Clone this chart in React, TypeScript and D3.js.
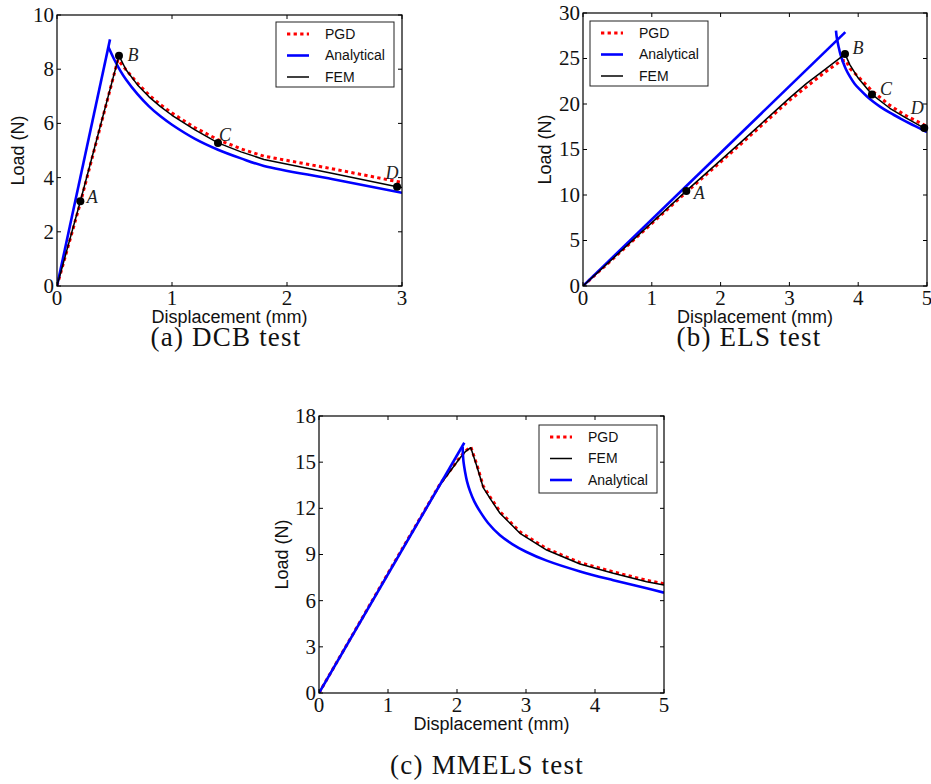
import * as d3 from "d3";

type Pt = [number, number];

// (a) DCB test
const dcbPgd: Pt[] = [[0, 0], [0.2, 3.02], [0.53, 8.35], [0.6, 7.98], [0.7, 7.48], [0.8, 7.05], [0.9, 6.69], [1.0, 6.38], [1.2, 5.84], [1.4, 5.4], [1.6, 5.06], [1.8, 4.79], [2.4, 4.32], [3.0, 3.82]];
const dcbAnalyticalLoad: Pt[] = [[0, 0], [0.461, 9.1]];
const dcbAnalyticalCrack: Pt[] = [[0.446, 8.83], [0.5, 8.34], [0.55, 7.95], [0.6, 7.62], [0.7, 7.08], [0.8, 6.63], [0.9, 6.26], [1.0, 5.95], [1.2, 5.43], [1.4, 5.03], [1.6, 4.71], [1.8, 4.43], [2.4, 3.94], [3.0, 3.44]];
const dcbFem: Pt[] = [[0, 0], [0.203, 3.13], [0.539, 8.5], [0.6, 7.98], [0.7, 7.42], [0.8, 6.98], [0.9, 6.62], [1.0, 6.3], [1.2, 5.76], [1.4, 5.28], [1.6, 4.95], [1.8, 4.67], [2.4, 4.15], [2.957, 3.66], [3.0, 3.63]];
const dcbMarks: Pt[] = [[0.203, 3.13], [0.539, 8.5], [1.4, 5.28], [2.957, 3.66]];
const dcbXTicks = [0, 1, 2, 3];
const dcbYTicks = [0, 2, 4, 6, 8, 10];

// (b) ELS test
const elsPgd: Pt[] = [[0, 0], [1.5, 10.3], [2.28, 15.5], [3.0, 20.4], [3.5, 23.4], [3.75, 24.75], [3.82, 24.8], [3.88, 23.9], [4.0, 23.0], [4.2, 21.45], [4.46, 19.85], [4.7, 18.7], [5.0, 17.55]];
const elsAnalyticalLoad: Pt[] = [[0, 0], [3.813, 27.9]];
const elsAnalyticalCrack: Pt[] = [[3.677, 28.05], [3.685, 27.5], [3.696, 27.0], [3.715, 26.3], [3.74, 25.5], [3.775, 24.7], [3.82, 23.85], [3.88, 23.0], [3.95, 22.2], [4.03, 21.55], [4.124, 20.85], [4.22, 20.25], [4.317, 19.72], [4.46, 19.05], [4.608, 18.43], [4.78, 17.75], [4.946, 17.12], [5.0, 16.92]];
const elsFem: Pt[] = [[0, 0], [1.502, 10.45], [2.28, 15.7], [3.0, 20.65], [3.25, 22.27], [3.5, 23.7], [3.808, 25.49], [3.88, 24.3], [4.0, 22.85], [4.2, 21.05], [4.46, 19.53], [4.7, 18.45], [4.96, 17.35], [5.0, 17.25]];
const elsMarks: Pt[] = [[1.502, 10.45], [3.808, 25.49], [4.2, 21.05], [4.96, 17.35]];
const elsXTicks = [0, 1, 2, 3, 4, 5];
const elsYTicks = [0, 5, 10, 15, 20, 25, 30];

// (c) MMELS test
const mmelsPgd: Pt[] = [[0, 0], [1.0, 7.78], [1.75, 13.55], [2.04, 15.3], [2.12, 15.72], [2.2, 16.0], [2.29, 14.8], [2.38, 13.45], [2.5, 12.6], [2.623, 11.78], [2.913, 10.47], [3.3, 9.38], [3.783, 8.47], [4.265, 7.87], [4.749, 7.32], [5.0, 7.1]];
const mmelsFem: Pt[] = [[0, 0], [1.0, 7.74], [1.75, 13.5], [2.04, 15.25], [2.12, 15.68], [2.2, 15.94], [2.29, 14.7], [2.38, 13.35], [2.5, 12.5], [2.623, 11.68], [2.913, 10.38], [3.3, 9.29], [3.783, 8.38], [4.265, 7.78], [4.749, 7.23], [5.0, 7.02]];
const mmelsAnalyticalLoad: Pt[] = [[0, 0], [2.106, 16.26]];
const mmelsAnalyticalCrack: Pt[] = [[2.082, 16.0], [2.086, 15.5], [2.095, 15.0], [2.116, 14.4], [2.145, 13.75], [2.19, 13.1], [2.25, 12.45], [2.333, 11.8], [2.45, 11.05], [2.623, 10.25], [2.8, 9.68], [3.0, 9.18], [3.3, 8.6], [3.783, 7.9], [4.265, 7.33], [4.749, 6.8], [5.0, 6.52]];
const mmelsXTicks = [0, 1, 2, 3, 4, 5];
const mmelsYTicks = [0, 3, 6, 9, 12, 15, 18];

const markNames = ["A", "B", "C", "D"];

type Kind = "PGD" | "Analytical" | "FEM";
const look: Record<Kind, { color: string; width: number; dash?: string }> = {
  PGD: { color: "#ff0000", width: 3, dash: "3.3 3.3" },
  Analytical: { color: "#0000ff", width: 2.6 },
  FEM: { color: "#000000", width: 1.5 },
};

const serif = "'Liberation Serif', 'Times New Roman', serif";
const sans = "'Liberation Sans', Arial, sans-serif";

type PanelProps = {
  id: string;
  box: { l: number; t: number; r: number; b: number };
  xMax: number;
  yMax: number;
  xTicks: number[];
  yTicks: number[];
  series: { kind: Kind; parts: Pt[][]; smooth?: boolean }[];
  legendOrder: Kind[];
  legend: { x: number; y: number; h: number };
  marks?: Pt[];
  markOffsets?: Pt[];
  caption: string;
  captionX: number;
  captionY: number;
  yTitleX: number;
};

function Panel(p: PanelProps) {
  const { l, t, r, b } = p.box;
  const x = d3.scaleLinear().domain([0, p.xMax]).range([l, r]);
  const y = d3.scaleLinear().domain([0, p.yMax]).range([b, t]);
  const straight = d3
    .line<Pt>()
    .x((d) => x(d[0]))
    .y((d) => y(d[1]));
  const smooth = d3
    .line<Pt>()
    .x((d) => x(d[0]))
    .y((d) => y(d[1]))
    .curve(d3.curveCatmullRom.alpha(0.5));
  const tick = 4;

  return (
    <g>
      <defs>
        <clipPath id={`clip-${p.id}`}>
          <rect x={l} y={t} width={r - l} height={b - t} />
        </clipPath>
      </defs>

      {/* curves */}
      <g clipPath={`url(#clip-${p.id})`} fill="none">
        {p.series.map((s) =>
          s.parts.map((part, i) => (
            <path
              key={s.kind + i}
              d={(s.smooth && part.length > 2 ? smooth(part) : straight(part)) || ""}
              stroke={look[s.kind].color}
              strokeWidth={look[s.kind].width}
              strokeDasharray={look[s.kind].dash}
              strokeLinejoin="round"
            />
          ))
        )}
      </g>

      {/* frame + inward ticks on all sides */}
      <rect x={l} y={t} width={r - l} height={b - t} fill="none" stroke="#000" strokeWidth={1.2} />
      {p.xTicks.map((v) => (
        <g key={"x" + v} stroke="#000" strokeWidth={1}>
          <line x1={x(v)} x2={x(v)} y1={b} y2={b - tick} />
          <line x1={x(v)} x2={x(v)} y1={t} y2={t + tick} />
        </g>
      ))}
      {p.yTicks.map((v) => (
        <g key={"y" + v} stroke="#000" strokeWidth={1}>
          <line x1={l} x2={l + tick} y1={y(v)} y2={y(v)} />
          <line x1={r} x2={r - tick} y1={y(v)} y2={y(v)} />
        </g>
      ))}

      {/* tick labels */}
      <g fontFamily={serif} fontSize={21} fill="#111">
        {p.xTicks.map((v) => (
          <text key={"xl" + v} x={x(v)} y={b + 19} textAnchor="middle">
            {v}
          </text>
        ))}
        {p.yTicks.map((v) => (
          <text key={"yl" + v} x={l - 3} y={y(v)} dy="0.33em" textAnchor="end">
            {v}
          </text>
        ))}
      </g>

      {/* axis titles */}
      <text x={(l + r) / 2} y={b + 37} textAnchor="middle" fontFamily={sans} fontSize={18} fill="#111">
        Displacement (mm)
      </text>
      <text
        transform={`translate(${p.yTitleX},${(t + b) / 2}) rotate(-90)`}
        textAnchor="middle"
        dy="0.35em"
        fontFamily={sans}
        fontSize={18}
        fill="#111"
      >
        Load (N)
      </text>

      {/* marked points */}
      {p.marks &&
        p.marks.map((m, i) => (
          <g key={"m" + i}>
            <circle cx={x(m[0])} cy={y(m[1])} r={4} fill="#000" />
            <text
              x={x(m[0]) + (p.markOffsets ? p.markOffsets[i][0] : 0)}
              y={y(m[1]) + (p.markOffsets ? p.markOffsets[i][1] : 0)}
              dy="0.35em"
              textAnchor="middle"
              fontFamily={serif}
              fontStyle="italic"
              fontSize={18}
              fill="#222"
            >
              {markNames[i]}
            </text>
          </g>
        ))}

      {/* legend */}
      <g>
        <rect x={p.legend.x} y={p.legend.y} width={118} height={p.legend.h} fill="#fff" stroke="#222" strokeWidth={1} />
        {p.legendOrder.map((k, i) => {
          const ly = p.legend.y + 12 + i * 21.5;
          return (
            <g key={"lg" + k}>
              <line
                x1={p.legend.x + 11}
                x2={p.legend.x + 33}
                y1={ly}
                y2={ly}
                stroke={look[k].color}
                strokeWidth={look[k].width}
                strokeDasharray={look[k].dash}
              />
              <text x={p.legend.x + 49} y={ly} dy="0.35em" fontFamily={sans} fontSize={14} fill="#111">
                {k}
              </text>
            </g>
          );
        })}
      </g>

      {/* caption */}
      <text x={p.captionX} y={p.captionY} textAnchor="middle" fontFamily={serif} fontSize={27} letterSpacing={1.2} fill="#111">
        {p.caption}
      </text>
    </g>
  );
}

export default function App() {
  return (
    <svg
      width={931}
      height={784}
      style={{ position: "absolute", left: 0, top: 0, background: "#fff" }}
    >
      <rect width={931} height={784} fill="#fff" />
      <Panel
        id="dcb"
        box={{ l: 57, t: 15, r: 402, b: 286 }}
        xMax={3}
        yMax={10}
        xTicks={dcbXTicks}
        yTicks={dcbYTicks}
        series={[
          { kind: "PGD", parts: [dcbPgd] },
          { kind: "Analytical", parts: [dcbAnalyticalLoad, dcbAnalyticalCrack], smooth: true },
          { kind: "FEM", parts: [dcbFem] },
        ]}
        legendOrder={["PGD", "Analytical", "FEM"]}
        legend={{ x: 276, y: 22, h: 65 }}
        marks={dcbMarks}
        markOffsets={[[12, -4], [14, -1], [7, -8], [-5, -14]]}
        caption="(a) DCB test"
        captionX={226}
        captionY={346}
        yTitleX={18}
      />
      <Panel
        id="els"
        box={{ l: 583, t: 13, r: 927, b: 286 }}
        xMax={5}
        yMax={30}
        xTicks={elsXTicks}
        yTicks={elsYTicks}
        series={[
          { kind: "PGD", parts: [elsPgd] },
          { kind: "Analytical", parts: [elsAnalyticalLoad, elsAnalyticalCrack], smooth: true },
          { kind: "FEM", parts: [elsFem] },
        ]}
        legendOrder={["PGD", "Analytical", "FEM"]}
        legend={{ x: 590, y: 21, h: 65 }}
        marks={elsMarks}
        markOffsets={[[13, 2], [13, -6], [14, -6], [-7, -20]]}
        caption="(b) ELS test"
        captionX={749}
        captionY={346}
        yTitleX={545}
      />
      <Panel
        id="mmels"
        box={{ l: 319, t: 416, r: 664, b: 693 }}
        xMax={5}
        yMax={18}
        xTicks={mmelsXTicks}
        yTicks={mmelsYTicks}
        series={[
          { kind: "PGD", parts: [mmelsPgd] },
          { kind: "FEM", parts: [mmelsFem] },
          { kind: "Analytical", parts: [mmelsAnalyticalLoad, mmelsAnalyticalCrack], smooth: true },
        ]}
        legendOrder={["PGD", "FEM", "Analytical"]}
        legend={{ x: 539, y: 425, h: 68 }}
        caption="(c) MMELS test"
        captionX={487}
        captionY={774}
        yTitleX={282}
      />
    </svg>
  );
}
